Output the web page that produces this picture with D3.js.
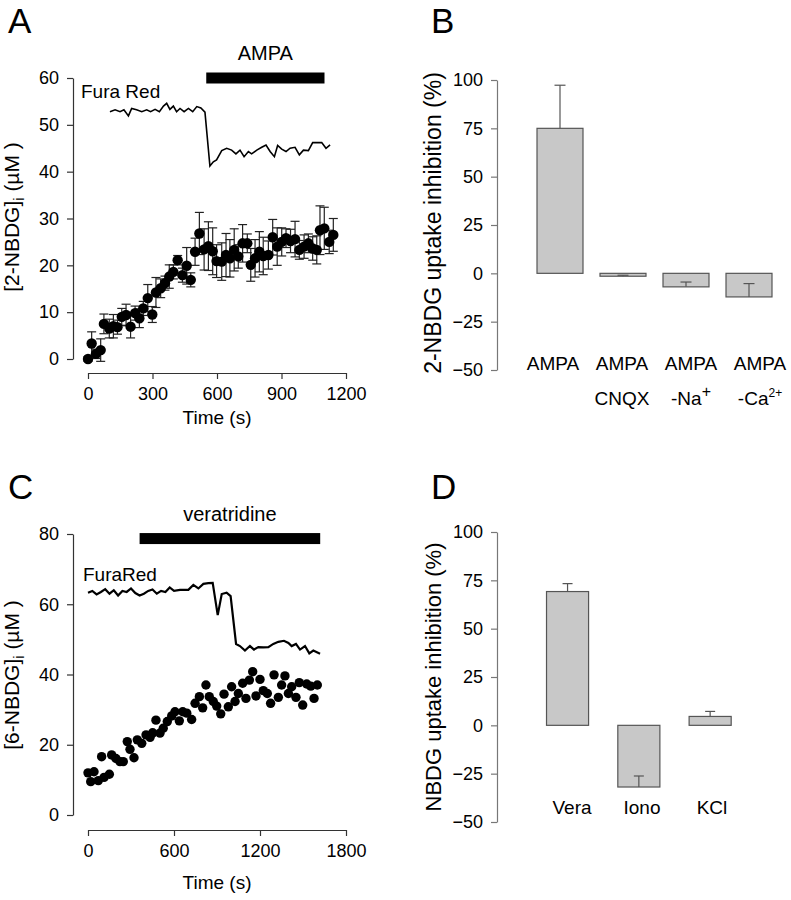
<!DOCTYPE html>
<html><head><meta charset="utf-8">
<script src="https://cdn.jsdelivr.net/npm/d3@7"></script>
<style>
body{margin:0;background:#fff}
text{font-family:'Liberation Sans',Arial,Helvetica,sans-serif;fill:#000}
</style>
</head><body>
<svg id="chart" width="791" height="900"></svg>
<script>
// ---------- Panel A data ----------
const timeA = [0,17,37,59,74,99,118,137,157,177,198,219,239,257,278,299,316,338,358,378,397,417,439,459,478,498,518,540,560,580,598,622,642,660,680,699,719,741,757,777,797,815,839,859,880,901,921,942,963,983,1005,1025,1045,1064,1079,1099,1122,1141];
const nbdgA = [0,3.3,1.1,1.9,7.5,6.5,7.0,6.8,9.0,9.4,6.9,9.8,8.7,10.8,13.0,9.5,14.2,15.1,16.2,17.6,18.6,21.1,17.9,19.9,16.9,22.9,26.8,23.4,24.1,23.0,20.9,20.8,22.2,21.5,23.3,21.9,24.7,24.7,20.1,21.5,22.9,22.0,22.2,26.0,24.0,25.0,25.8,25.2,25.6,23.3,24.0,24.7,23.6,23.3,27.5,27.9,25.0,26.5];
const errA = [0.5,2.5,1,2.4,2.1,2.0,2.5,1.5,1.8,2.3,2.4,1.5,2,1.5,2.9,1.7,3.2,2,1.5,2.5,1.5,1,1.5,3.9,1.5,2.9,4.5,4.4,5.2,5,3.5,4,4.6,4,4.5,2.5,4,2,3.5,4,4.3,4,3,3.8,4,3,2,2.5,3.8,2,2.5,2,2.5,3,5.2,4.5,2.5,3.5];
const furaTimeA = [102,126,149,167,188,203,226,250,273,291,312,332,351,366,381,397,412,428,447,467,487,506,525,544,567,583,598,622,645,668,688,707,726,746,761,785,808,828,847,867,882,901,921,940,963,983,1002,1025,1045,1067,1087,1107,1126];
const furaA = [52.8,53.2,52.8,53.2,51.9,53.5,53.2,52.8,53.2,52.8,53.3,52.8,54.0,54.6,53.3,54.0,52.8,53.5,52.8,53.5,52.8,53.9,53.6,52.7,41.2,42.1,42.5,44.5,45.0,44.6,43.8,44.6,43.2,44.3,43.8,44.6,45.2,45.7,44.3,43.2,45.6,44.8,44.3,45.0,45.2,43.6,44.6,44.5,46.2,46.2,46.2,45.0,45.7];
const ampaPeriod = [550, 1100];
const ampaLevel = 60;
const xTicksA = [0,300,600,900,1200];
const yTicksA = [0,10,20,30,40,50,60];

// ---------- Panel B data ----------
const catsB = ["AMPA","AMPA CNQX","AMPA -Na","AMPA -Ca"];
const labelB1 = ["AMPA","AMPA","AMPA","AMPA"];
const labelB2 = ["","CNQX","-Na","-Ca"];
const labelB2sup = ["","","+","2+"];
const valsB = [75, -1.5, -7.0, -12.2];
const errB = [22.3, 0.5, 2.5, 6.9];
const yTicksB = [-50,-25,0,25,50,75,100];

// ---------- Panel C data ----------
const timeC = [0,19,42,72,95,112,149,165,195,223,246,274,293,321,344,375,405,433,451,474,502,525,553,584,607,637,661,689,723,747,777,800,823,846,874,898,926,949,979,1002,1026,1049,1079,1102,1126,1149,1172,1200,1223,1251,1274,1298,1328,1351,1374,1398,1421,1451,1474,1498,1526,1554,1577,1600];
const nbdgC = [12.0,9.5,12.3,9.8,16.6,10.7,11.6,17.1,16.1,15.2,15.2,20.9,18.7,16.3,21.4,20.4,22.8,22.1,23.4,27.0,23.3,24.7,26.6,28.2,29.4,26.8,29.4,29.0,27.2,31.8,33.7,30.5,37.0,33.7,32.3,31.0,28.8,34.4,30.8,36.5,32.3,34.6,37.5,33.2,38.4,40.8,33.9,38.6,35.4,34.6,31.8,39.9,33.5,37.0,39.6,34.6,36.5,33.5,37.7,31.3,37.3,36.7,33.2,37.0];
const furaTimeC = [0,30,60,90,120,150,180,210,240,270,300,330,360,390,420,450,480,510,540,570,600,642,700,735,770,805,840,870,905,933,967,995,1033,1060,1095,1130,1158,1188,1223,1258,1293,1328,1367,1398,1421,1451,1479,1514,1544,1572,1619];
const furaC = [63.3,63.8,62.8,63.5,64.3,63.0,64.0,62.5,63.8,63.5,64.5,63.2,62.5,63.0,63.8,64.2,63.0,63.8,63.5,64.8,63.8,64.1,64.1,65.5,64.5,65.8,66.0,66.1,56.9,62.9,63.3,62.3,48.7,48.1,46.8,48.1,47.1,47.8,47.7,47.8,48.7,49.3,49.6,49.0,48.1,48.7,47.1,48.1,46.0,46.8,45.9];
const veraPeriod = [360, 1620];
const veraLevel = 78.7;
const xTicksC = [0,600,1200,1800];
const yTicksC = [0,20,40,60,80];

// ---------- Panel D data ----------
const catsD = ["Vera","Iono","KCl"];
const valsD = [69.2, -31.9, 4.6];
const errD = [4.1, 5.7, 2.6];
const yTicksD = [-50,-25,0,25,50,75,100];

// ================= drawing =================
const svg = d3.select("#chart");
svg.append("rect").attr("width",791).attr("height",900).attr("fill","#fff");

function panelLetter(t, x, y){
  svg.append("text").attr("x",x).attr("y",y).attr("font-size",35).text(t);
}
function styleAxis(g, color, fs){
  g.attr("font-size",fs).attr("font-family","'Liberation Sans',Arial,sans-serif");
  g.select(".domain").attr("stroke",color).attr("stroke-width",1.2);
  g.selectAll(".tick line").attr("stroke",color).attr("stroke-width",1.2);
  g.selectAll(".tick text").attr("fill","#000").attr("font-size",fs);
}
const fmt = d3.format("d");

function timePanel(o){
  const x = d3.scaleLinear().domain(o.xDomain).range(o.xRange);
  const y = d3.scaleLinear().domain(o.yDomain).range(o.yRange);
  const g = svg.append("g");
  const ya = g.append("g").attr("transform",`translate(${o.yAxisX},0)`)
    .call(d3.axisLeft(y).tickValues(o.yTicks).tickFormat(fmt).tickSize(6).tickSizeOuter(0).tickPadding(8));
  styleAxis(ya, "#333", 18);
  const xa = g.append("g").attr("transform",`translate(0,${o.xAxisY})`)
    .call(d3.axisBottom(x).tickValues(o.xTicks).tickFormat(fmt).tickSize(6).tickSizeOuter(0).tickPadding(8));
  styleAxis(xa, "#333", 18);
  // x title
  g.append("text").attr("x",x((o.xDomain[0]+o.xDomain[1])/2)).attr("y",o.xTitleY)
    .attr("text-anchor","middle").attr("font-size",19).text("Time (s)");
  // y title
  const yt = g.append("text").attr("transform",`translate(${o.yTitleX},${o.yTitleY}) rotate(-90)`)
    .attr("text-anchor","middle").attr("font-size",21);
  yt.append("tspan").text(o.yTitle);
  yt.append("tspan").attr("dy",5).attr("font-size",15).text("i");
  yt.append("tspan").attr("dy",-5).text(" (\u00B5M )");
  // drug bar
  g.append("rect").attr("x",x(o.period[0])).attr("width",x(o.period[1])-x(o.period[0]))
    .attr("y",y(o.level)-5.5).attr("height",11).attr("fill","#000");
  g.append("text").attr("x",x((o.period[0]+o.period[1])/2)).attr("y",y(o.level)-18)
    .attr("text-anchor","middle").attr("font-size",20).text(o.drug);
  // fura trace
  const line = d3.line().x(d=>x(d[0])).y(d=>y(d[1]));
  g.append("path").datum(d3.zip(o.furaT,o.furaV)).attr("d",line)
    .attr("fill","none").attr("stroke","#000").attr("stroke-width",o.furaW).attr("stroke-linejoin","miter");
  g.append("text").attr("x",o.furaLabel[0]).attr("y",o.furaLabel[1]).attr("font-size",19).text(o.furaText);
  // error bars
  if(o.err){
    const eb = g.append("g").attr("stroke","#222").attr("stroke-width",1.2);
    o.t.forEach((t,i)=>{
      const e=o.err[i], v=o.v[i], cx=x(t);
      eb.append("line").attr("x1",cx).attr("x2",cx).attr("y1",y(v-e)).attr("y2",y(v+e));
      eb.append("line").attr("x1",cx-4.5).attr("x2",cx+4.5).attr("y1",y(v+e)).attr("y2",y(v+e));
      eb.append("line").attr("x1",cx-4.5).attr("x2",cx+4.5).attr("y1",y(v-e)).attr("y2",y(v-e));
    });
  }
  g.append("g").selectAll("circle").data(d3.zip(o.t,o.v)).join("circle")
    .attr("cx",d=>x(d[0])).attr("cy",d=>y(d[1])).attr("r",o.r).attr("fill","#000");
}

function barPanel(o){
  const y = d3.scaleLinear().domain([-50,100]).range(o.yRange);
  const xb = d3.scaleBand().domain(o.cats).range(o.bandRange).paddingInner(o.pad).paddingOuter(o.pad/2);
  const xl = d3.scalePoint().domain(o.cats).range(o.labelRange);
  const g = svg.append("g");
  const ya = g.append("g").attr("transform",`translate(${o.axisX},0)`)
    .call(d3.axisLeft(y).tickValues(o.yTicks).tickFormat(fmt).tickSize(6).tickSizeOuter(0).tickPadding(8));
  styleAxis(ya, "#777", 18);
  g.append("text").attr("transform",`translate(${o.titleX},${o.titleY}) rotate(-90)`)
    .attr("text-anchor","middle").attr("font-size",o.titleSize).text(o.title);
  o.cats.forEach((c,i)=>{
    const v=o.vals[i], e=o.errs[i];
    const x0 = xb(c), w = xb.bandwidth(), cx = x0+w/2;
    g.append("rect").attr("x",x0).attr("width",w)
      .attr("y",y(Math.max(0,v))).attr("height",Math.abs(y(v)-y(0)))
      .attr("fill","#c8c8c8").attr("stroke","#555").attr("stroke-width",1.2);
    g.append("line").attr("x1",cx).attr("x2",cx).attr("y1",y(v)).attr("y2",y(v+e))
      .attr("stroke","#555").attr("stroke-width",1.2);
    g.append("line").attr("x1",cx-o.cap/2).attr("x2",cx+o.cap/2).attr("y1",y(v+e)).attr("y2",y(v+e))
      .attr("stroke","#555").attr("stroke-width",1.2);
  });
  o.cats.forEach((c,i)=>{
    g.append("text").attr("x",xl(c)).attr("y",o.labelY).attr("text-anchor","middle")
      .attr("font-size",19).text(o.lab1[i]);
    if(o.lab2 && o.lab2[i]){
      const t = g.append("text").attr("x",xl(c)).attr("y",o.labelY+35).attr("text-anchor","middle")
        .attr("font-size",19);
      t.append("tspan").text(o.lab2[i]);
      if(o.lab2sup[i]) t.append("tspan").attr("dy",-8).attr("font-size",o.lab2sup[i].length>1?12:16).text(o.lab2sup[i]);
    }
  });
}

// Panel A
panelLetter("A", 8, 33);
timePanel({xDomain:[0,1200], xRange:[88,346], yDomain:[0,60], yRange:[359,78],
  yAxisX:73, xAxisY:373, xTicks:xTicksA, yTicks:yTicksA, xTitleY:424,
  yTitleX:19, yTitleY:217, yTitle:"[2-NBDG]",
  period:ampaPeriod, level:ampaLevel, drug:"AMPA",
  furaT:furaTimeA, furaV:furaA, furaW:1.6, furaLabel:[81,98], furaText:"Fura Red",
  t:timeA, v:nbdgA, err:errA, r:5.2});

// Panel B
panelLetter("B", 431, 33);
barPanel({yRange:[370,80], axisX:497, yTicks:yTicksB, cats:catsB, vals:valsB, errs:errB,
  bandRange:[528.5,780.5], pad:0.27, labelRange:[553,760], labelY:370,
  lab1:labelB1, lab2:labelB2, lab2sup:labelB2sup, cap:11,
  title:"2-NBDG uptake inhibition (%)", titleX:441, titleY:223, titleSize:23});

// Panel C
panelLetter("C", 8, 499);
timePanel({xDomain:[0,1800], xRange:[88,346], yDomain:[0,80], yRange:[815,534],
  yAxisX:73, xAxisY:830, xTicks:xTicksC, yTicks:yTicksC, xTitleY:889,
  yTitleX:19, yTitleY:675, yTitle:"[6-NBDG]",
  period:veraPeriod, level:veraLevel, drug:"veratridine",
  furaT:furaTimeC, furaV:furaC, furaW:2.2, furaLabel:[83,581], furaText:"FuraRed",
  t:timeC, v:nbdgC, err:null, r:4.7});

// Panel D
panelLetter("D", 431, 499);
barPanel({yRange:[822,532], axisX:497, yTicks:yTicksD, cats:catsD, vals:valsD, errs:errD,
  bandRange:[531.9,745.8], pad:0.41, labelRange:[572,712], labelY:814,
  lab1:catsD, lab2:null, lab2sup:null, cap:10,
  title:"NBDG uptake inhibition (%)", titleX:441, titleY:677, titleSize:22});
</script>
</body></html>
